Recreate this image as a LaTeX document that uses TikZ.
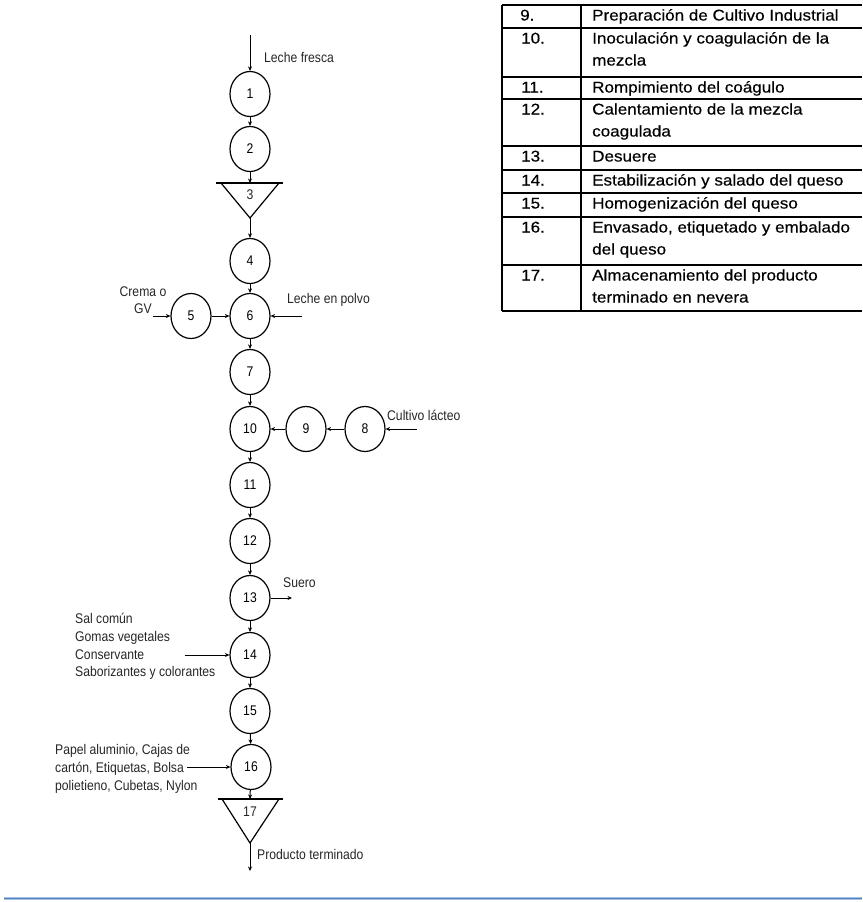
\documentclass[tikz,border=0pt]{standalone}
\usepackage{fontspec}
\setmainfont{Liberation Sans}
\newfontfamily\lblfont[FakeStretch=0.87]{Liberation Sans}
\newfontfamily\tabfont[FakeStretch=1.1,FakeBold=0.35]{Liberation Sans}
\usetikzlibrary{shapes.geometric,arrows.meta}

\tikzset{
  proc/.style={ellipse, draw, line width=1.2pt, minimum width=40pt, minimum height=45pt,
    inner sep=0pt, font=\lblfont\fontsize{14}{16}\selectfont},
  flow/.style={draw, line width=1pt, -{Stealth[length=4.5pt,width=4pt]}},
  lbl/.style={inner sep=0pt, font=\lblfont\fontsize{14}{17.6}\selectfont, text=black!85},
  tnum/.style={anchor=base west, inner sep=0pt, font=\tabfont\fontsize{15.5}{22}\selectfont},
  ttxt/.style={anchor=base west, inner sep=0pt, font=\tabfont\fontsize{15.5}{22}\selectfont},
  rule/.style={line width=1.8pt},
  store/.style={draw, line width=1.2pt, line join=miter},
}

\begin{document}
\begin{tikzpicture}[x=1pt,y=-1pt]
\useasboundingbox (0,0) rectangle (862,902);

% ---------- process column ----------
\coordinate (in1) at (250,35);
\node[proc] (n1) at (250,94) {1};
\node[proc] (n2) at (250,149) {2};

% storage triangle 3
\coordinate (t3top) at (250,183);
\coordinate (t3apex) at (250,218);
\draw[store] (221,183) -- (279,183) -- (t3apex) -- cycle;
\draw[line width=2pt] (216,183) -- (283,183);
\node[lbl] (n3) at (250,195) {3};

\node[proc] (n4) at (250,261) {4};
\node[proc] (n6) at (250,316) {6};
\node[proc] (n5) at (191,316) {5};
\node[proc] (n7) at (250,372) {7};
\node[proc] (n10) at (250,429) {10};
\node[proc] (n9) at (306,429) {9};
\node[proc] (n8) at (365,429) {8};
\node[proc] (n11) at (250,485) {11};
\node[proc] (n12) at (250,541) {12};
\node[proc] (n13) at (250,598) {13};
\node[proc] (n14) at (250,655) {14};
\node[proc] (n15) at (250,711) {15};
\node[proc] (n16) at (251,767) {16};

% storage triangle 17
\coordinate (t17top) at (250,799);
\coordinate (t17apex) at (250,843);
\draw[store] (222,799) -- (279,799) -- (t17apex) -- cycle;
\draw[line width=2pt] (218,799) -- (283,799);
\node[lbl] (n17) at (250,812) {17};

% free ends of inputs and outputs
\coordinate (in5) at (153,316);
\coordinate (in6) at (302,316);
\coordinate (in8) at (417,429);
\coordinate (out13) at (292,598);
\coordinate (in14) at (185,655);
\coordinate (in16) at (187,767);
\coordinate (out17) at (250,871);

% ---------- connectors ----------
\draw[flow] (in1) -- (n1);
\draw[flow] (n1) -- (n2);
\draw[flow] (n2) -- (t3top);
\draw[flow] (t3apex) -- (n4);
\draw[flow] (n4) -- (n6);
\draw[flow] (in5) -- (n5);
\draw[flow] (n5) -- (n6);
\draw[flow] (in6) -- (n6);
\draw[flow] (n6) -- (n7);
\draw[flow] (n7) -- (n10);
\draw[flow] (in8) -- (n8);
\draw[flow] (n8) -- (n9);
\draw[flow] (n9) -- (n10);
\draw[flow] (n10) -- (n11);
\draw[flow] (n11) -- (n12);
\draw[flow] (n12) -- (n13);
\draw[flow] (n13) -- (out13);
\draw[flow] (n13) -- (n14);
\draw[flow] (in14) -- (n14);
\draw[flow] (n14) -- (n15);
\draw[flow] (n15) -- (n16);
\draw[flow] (in16) -- (n16);
\draw[flow] (n16) -- (t17top);
\draw[flow] (t17apex) -- (out17);

% ---------- labels ----------
\node[lbl, anchor=west] (l1) at (264,57) {Leche fresca};
\node[lbl, align=center] (l5) at (143,300) {Crema o\\GV};
\node[lbl, anchor=west] (l6) at (287,300) {Leche en polvo};
\node[lbl, anchor=west] (l8) at (387,415) {Cultivo lácteo};
\node[lbl, anchor=west] (l13) at (283,583) {Suero};
\node[lbl, anchor=west, align=left] (l14) at (75,646.5)
  {Sal común\\Gomas vegetales\\Conservante\\Saborizantes y colorantes};
\node[lbl, anchor=west, align=left, font=\lblfont\fontsize{14}{18}\selectfont] (l16) at (55,769)
  {Papel aluminio, Cajas de\\cartón, Etiquetas, Bolsa\\polietieno, Cubetas, Nylon};
\node[lbl, anchor=west] (l17) at (257,854) {Producto terminado};

% ---------- legend table ----------
\foreach \yy in {5,28,77,99,146,170,193,217,265,311}
  \draw[rule] (502,\yy) -- (862,\yy);
\draw[rule] (502,5) -- (502,311);
\draw[rule] (581,5) -- (581,311);

\node[tnum] (k9)  at (520,20.5) {9.};
\node[tnum] (k10) at (521,43.5) {10.};
\node[tnum] (k11) at (521,92.5) {11.};
\node[tnum] (k12) at (521,114.5) {12.};
\node[tnum] (k13) at (521,161.5) {13.};
\node[tnum] (k14) at (521,185.5) {14.};
\node[tnum] (k15) at (521,208.5) {15.};
\node[tnum] (k16) at (521,232.5) {16.};
\node[tnum] (k17) at (521,280.5) {17.};

\node[ttxt] (d9)  at (592,20.5) {Preparación de Cultivo Industrial};
\node[ttxt] (d10a) at (592,43.5) {Inoculación y coagulación de la};
\node[ttxt] (d10b) at (592,65.5) {mezcla};
\node[ttxt] (d11) at (592,92.5) {Rompimiento del coágulo};
\node[ttxt] (d12a) at (592,114.5) {Calentamiento de la mezcla};
\node[ttxt] (d12b) at (592,136.5) {coagulada};
\node[ttxt] (d13) at (592,161.5) {Desuere};
\node[ttxt] (d14) at (592,185.5) {Estabilización y salado del queso};
\node[ttxt] (d15) at (592,208.5) {Homogenización del queso};
\node[ttxt] (d16a) at (592,232.5) {Envasado, etiquetado y embalado};
\node[ttxt] (d16b) at (592,254.5) {del queso};
\node[ttxt] (d17a) at (592,280.5) {Almacenamiento del producto};
\node[ttxt] (d17b) at (592,302.5) {terminado en nevera};

% ---------- page rule ----------
\coordinate (rl) at (4,898.5);
\coordinate (rr) at (862,898.5);
\draw[line width=3.2pt, color={rgb,255:red,168;green,194;blue,226}] (rl) -- (rr);
\draw[line width=1.3pt, color={rgb,255:red,79;green,129;blue,189}] (rl) -- (rr);
\end{tikzpicture}
\end{document}
